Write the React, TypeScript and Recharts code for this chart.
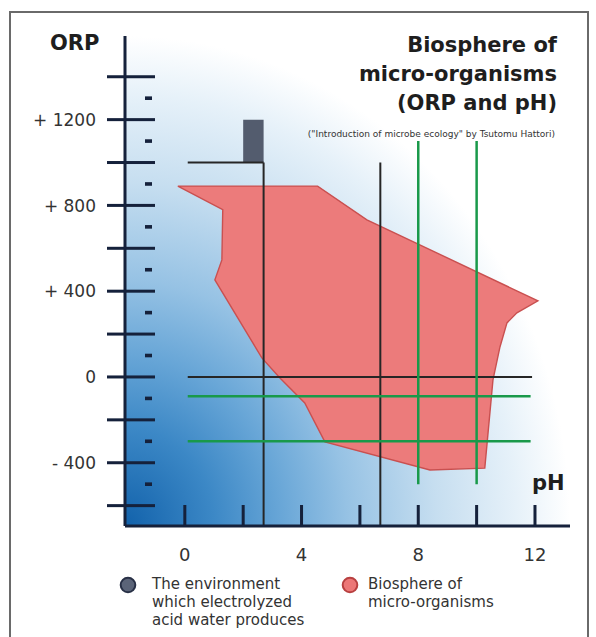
import React from "react"
import { ComposedChart, XAxis, YAxis, ReferenceArea, ReferenceLine, Scatter } from "recharts"

// biosphere outline, walked clockwise from the left tip
const biospherePh = [-0.24, 4.55, 6.24, 12.1, 11.38, 11.04, 10.8, 10.56, 10.28, 8.4, 4.8, 4.11, 3.26, 2.64, 1.03, 1.27, 1.3, -0.24]
const biosphereOrp = [890, 890, 733, 355, 299, 252, 140, -14, -425, -434, -303, -121, -5, 89, 453, 546, 780, 890]

const phTicks = [0, 2, 4, 6, 8, 10, 12]
const phLabels = [0, 4, 8, 12]
const orpTicks = [-600, -500, -400, -300, -200, -100, 0, 100, 200, 300, 400, 500, 600, 700, 800, 900, 1000, 1100, 1200, 1300, 1400]
const orpLabelValues = [1200, 800, 400, 0, -400]
const orpLabelTexts = ["+ 1200", "+ 800", "+ 400", "0", "- 400"]

const phDomain = [-2.05, 13.2]
const orpDomain = [-695, 1590]

// the box for electrolyzed acid water
const acidPh = [2, 2.7]
const acidOrp = [1000, 1200]

// [ph1, orp1, ph2, orp2]
const blackSegments = [
  [0.1, 1000, 2.7, 1000],
  [2.7, 1000, 2.7, -695],
  [6.7, 1000, 6.7, -695],
  [0.1, 0, 11.9, 0],
]
const greenSegments = [
  [8, 1100, 8, -500],
  [10, 1100, 10, -500],
  [0.1, -90, 11.85, -90],
  [0.1, -300, 11.85, -300],
]

const titleLines = ["Biosphere of", "micro-organisms", "(ORP and pH)"]
const citation = "(\"Introduction of microbe ecology\" by Tsutomu Hattori)"
const legendAcid = ["The environment", "which electrolyzed", "acid water produces"]
const legendBio = ["Biosphere of", "micro-organisms"]

const navy = "#15213b"
const red = "#ec7b7b"
const redEdge = "#c95050"
const slate = "#535c6e"
const font = "'DejaVu Sans', sans-serif"

const biospherePoints = biospherePh.map((ph, i) => ({ ph, orp: biosphereOrp[i] }))

function OrpTick({ x, y, payload }: any) {
  const v = payload.value
  const major = v % 200 === 0
  const idx = orpLabelValues.indexOf(v)
  return (
    <g>
      {major ? (
        <rect x={x - 18} y={y - 1.5} width={48} height={3} fill={navy} />
      ) : (
        <rect x={x + 20} y={y - 1.8} width={7} height={3.6} fill={navy} />
      )}
      {idx >= 0 && (
        <text x={x - 29} y={y} dy="0.36em" textAnchor="end" fontFamily={font} fontSize={17} fill="#333">
          {orpLabelTexts[idx]}
        </text>
      )}
    </g>
  )
}

function PhTick({ x, y, payload }: any) {
  const v = payload.value
  return (
    <g>
      <rect x={x - 1.5} y={y - 21} width={3} height={21} fill={navy} />
      {phLabels.includes(v) && (
        <text x={x} y={y + 29} dy="0.36em" textAnchor="middle" fontFamily={font} fontSize={18} fill="#333">
          {v}
        </text>
      )}
    </g>
  )
}

function Dot({ fill, stroke }: { fill: string; stroke: string }) {
  return (
    <svg width={18} height={18} style={{ position: "absolute", left: -9, top: -9 }}>
      <circle cx={9} cy={9} r={7.3} fill={fill} stroke={stroke} strokeWidth={2} />
    </svg>
  )
}

export default function App() {
  return (
    <div style={{ position: "absolute", left: 0, top: 0, width: 596, height: 637, background: "#fff", overflow: "hidden", fontFamily: font }}>
      <div style={{ position: "absolute", left: 9, top: 11, width: 576, height: 660, border: "2px solid #6a6a6a" }} />

      <ComposedChart width={596} height={637} margin={{ top: 36, right: 26, left: 25, bottom: 51 }} style={{ position: "absolute", left: 0, top: 0 }}>
        <defs>
          <radialGradient id="blueGlow" cx="0" cy="1" r="1" fx="0" fy="1">
            <stop offset="0" stopColor="#1262ab" />
            <stop offset="0.2" stopColor="#3c88c6" />
            <stop offset="0.35" stopColor="#68a6d7" />
            <stop offset="0.5" stopColor="#96c2e4" />
            <stop offset="0.7" stopColor="#c6def0" />
            <stop offset="0.88" stopColor="#e6f1f9" />
            <stop offset="1" stopColor="#ffffff" />
          </radialGradient>
        </defs>
        <XAxis
          type="number"
          dataKey="ph"
          domain={phDomain}
          allowDataOverflow
          ticks={phTicks}
          interval={0}
          height={60}
          tickSize={0}
          tickMargin={0}
          tickLine={false}
          tick={<PhTick />}
          axisLine={{ stroke: navy, strokeWidth: 3 }}
        />
        <YAxis
          type="number"
          dataKey="orp"
          domain={orpDomain}
          allowDataOverflow
          ticks={orpTicks}
          interval={0}
          width={100}
          tickSize={0}
          tickMargin={0}
          tickLine={false}
          tick={<OrpTick />}
          axisLine={{ stroke: navy, strokeWidth: 3 }}
        />
        <ReferenceArea
          x1={phDomain[0]}
          x2={phDomain[1]}
          y1={orpDomain[0]}
          y2={orpDomain[1]}
          fill="url(#blueGlow)"
          fillOpacity={1}
          stroke="none"
          zIndex={-50}
        />
        <Scatter
          data={biospherePoints}
          isAnimationActive={false}
          line={{ fill: red, stroke: redEdge, strokeWidth: 1.4 }}
          lineType="joint"
          shape={() => <g />}
          legendType="none"
          zIndex={100}
        />
        <ReferenceArea
          x1={acidPh[0]}
          x2={acidPh[1]}
          y1={acidOrp[0]}
          y2={acidOrp[1]}
          fill={slate}
          fillOpacity={1}
          stroke="none"
          zIndex={200}
        />
        {blackSegments.map((s, i) => (
          <ReferenceLine
            key={"b" + i}
            segment={[{ x: s[0], y: s[1] }, { x: s[2], y: s[3] }]}
            stroke="#262626"
            strokeWidth={2}
            ifOverflow="visible"
            zIndex={400}
          />
        ))}
        {greenSegments.map((s, i) => (
          <ReferenceLine
            key={"g" + i}
            segment={[{ x: s[0], y: s[1] }, { x: s[2], y: s[3] }]}
            stroke="#19994a"
            strokeWidth={2.5}
            ifOverflow="visible"
            zIndex={400}
          />
        ))}
      </ComposedChart>

      <div style={{ position: "absolute", left: 50, top: 29, fontSize: 21, fontWeight: "bold", lineHeight: "29px", color: "#1e1e1e" }}>ORP</div>
      <div style={{ position: "absolute", left: 532, top: 469, fontSize: 21, fontWeight: "bold", lineHeight: "29px", color: "#1e1e1e" }}>pH</div>
      <div style={{ position: "absolute", right: 39, top: 31, fontSize: 21, fontWeight: "bold", lineHeight: "29px", textAlign: "right", color: "#1e1e1e" }}>
        {titleLines.map((t) => (
          <div key={t}>{t}</div>
        ))}
      </div>
      <div style={{ position: "absolute", right: 41, top: 128, fontSize: 9, lineHeight: "12px", whiteSpace: "nowrap", color: "#333" }}>{citation}</div>

      <div style={{ position: "absolute", left: 128, top: 585 }}>
        <Dot fill="#5b6478" stroke="#283046" />
      </div>
      <div style={{ position: "absolute", left: 152, top: 575, fontSize: 15, lineHeight: "18px", color: "#333", whiteSpace: "nowrap" }}>
        {legendAcid.map((t) => (
          <div key={t}>{t}</div>
        ))}
      </div>
      <div style={{ position: "absolute", left: 350, top: 585 }}>
        <Dot fill="#ec7777" stroke="#b84040" />
      </div>
      <div style={{ position: "absolute", left: 368, top: 575, fontSize: 15, lineHeight: "18px", color: "#333", whiteSpace: "nowrap" }}>
        {legendBio.map((t) => (
          <div key={t}>{t}</div>
        ))}
      </div>
    </div>
  )
}
